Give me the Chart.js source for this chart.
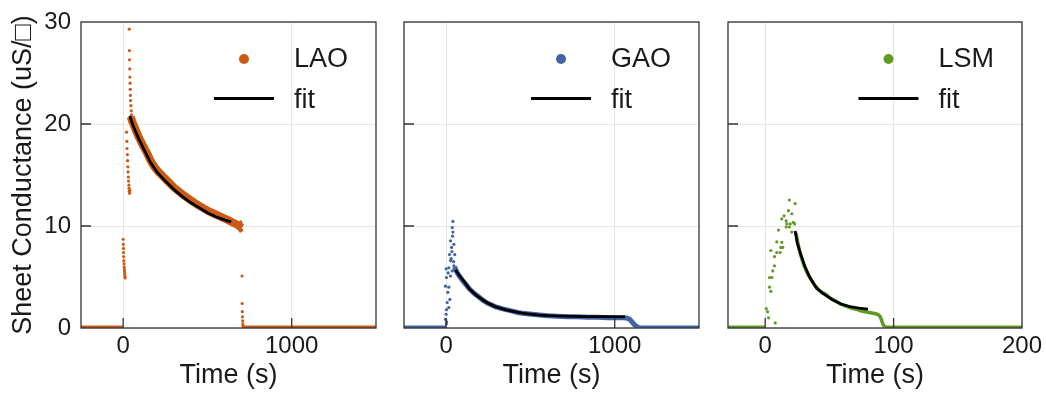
<!DOCTYPE html>
<html>
<head>
<meta charset="utf-8">
<script src="https://cdn.jsdelivr.net/npm/chart.js@4.4.0/dist/chart.umd.min.js"></script>
<style>
  body { margin: 0; background: #fff; }
  #wrap { position: relative; width: 1046px; height: 394px; }
  canvas { position: absolute; top: 0; }
</style>
</head>
<body>
<div id="wrap">
  <canvas id="c1" width="390" height="394" style="left:0px"></canvas>
  <canvas id="c2" width="325" height="394" style="left:390px"></canvas>
  <canvas id="c3" width="331" height="394" style="left:715px"></canvas>
</div>
<script>
"use strict";

// ---- values ----
var yTicks = [0, 10, 20, 30];
var longXTicks = [0, 1000];
var shortXTicks = [0, 100, 200];

// LAO
var laoPreT = [-250, 0], laoPreY = [0, 0];
var laoPostT = [712, 1500], laoPostY = [0, 0];
var laoSpikeT = [0, 1, 2, 2, 3, 4, 5, 6, 7, 8, 9, 10, 11, 12,
                 20, 22, 23, 25, 26, 28, 29, 31, 32, 34, 35, 37, 38, 40,
                 36, 37, 38, 39, 40, 41, 42, 43, 44, 46, 48, 50, 52,
                 690, 695, 700, 703, 698, 705, 706, 707, 708, 709, 710, 711, 712];
var laoSpikeY = [8.7, 8.2, 7.8, 7.4, 7.0, 6.6, 6.3, 6.0, 5.8, 5.6, 5.4, 5.2, 5.0, 4.9,
                 19.2, 18.3, 17.6, 17.0, 16.4, 15.8, 15.3, 14.8, 14.4, 14.0, 13.7, 13.4, 13.2, 13.5,
                 29.3, 27.2, 26.3, 25.4, 24.6, 24.0, 23.4, 22.8, 22.3, 21.8, 21.3, 20.9, 20.5,
                 10.3, 9.5, 10.2, 9.6, 10.4, 5.1, 2.4, 1.6, 1.1, 0.7, 0.4, 0.2, 0.1];
var laoBandT = [45, 55, 65, 75, 90, 105, 120, 140, 160, 185, 210, 240, 270, 300, 330, 360,
                395, 430, 465, 500, 540, 580, 620, 655, 680, 695, 705];
var laoBandY = [20.7, 20.2, 19.8, 19.4, 18.8, 18.3, 17.8, 17.2, 16.5, 15.8, 15.3, 14.8, 14.3, 13.8, 13.4, 13.0,
                12.6, 12.2, 11.85, 11.5, 11.2, 10.9, 10.6, 10.3, 10.1, 9.9, 9.8];
var laoFitT = [39, 60, 80, 100, 130, 160, 200, 250, 300, 350, 400, 450, 500, 550, 600, 641];
var laoFitY = [20.8, 19.8, 19.0, 18.3, 17.3, 16.3, 15.3, 14.4, 13.6, 12.9, 12.3, 11.8, 11.3, 10.9, 10.6, 10.4];

// GAO
var gaoPreT = [-250, 0], gaoPreY = [0, 0];
var gaoPostT = [1140, 1500], gaoPostY = [0, 0];
var gaoSpikeT = [-4, 0, 2, -4, 0, 12, 6, 16, 22, 10, 16, 26, 20, 32, 26, 40, 36, 40, 46, 51,
                 36, 46, 26, 2, 16, 30, 34, 44, 38, 1, 3];
var gaoSpikeY = [0.85, 1.35, 1.8, 4.1, 5.8, 5.4, 2.5, 2.0, 2.8, 3.5, 5.9, 6.6, 7.2, 7.9, 8.55, 9.4, 9.85, 10.45, 8.2, 7.2,
                 5.6, 6.1, 5.1, 4.95, 4.0, 6.8, 7.5, 6.5, 9.0, 0.4, 0.6];
var gaoBandT = [50, 60, 70, 85, 100, 120, 140, 165, 190, 220, 250, 290, 330, 380, 430, 480, 540, 600,
                660, 720, 780, 840, 900, 960, 1020, 1060, 1075, 1085, 1095, 1105, 1115, 1125, 1140];
var gaoBandY = [6.0, 5.6, 5.3, 4.95, 4.6, 4.2, 3.8, 3.4, 3.1, 2.7, 2.4, 2.1, 1.9, 1.7, 1.5, 1.4, 1.3, 1.2,
                1.15, 1.1, 1.1, 1.05, 1.05, 1.0, 1.0, 1.0, 0.95, 0.9, 0.75, 0.55, 0.35, 0.2, 0.05];
var gaoFitT = [55, 80, 110, 140, 180, 230, 290, 360, 450, 550, 650, 750, 850, 950, 1061];
var gaoFitY = [5.7, 5.1, 4.5, 3.8, 3.2, 2.6, 2.1, 1.75, 1.45, 1.27, 1.18, 1.14, 1.12, 1.11, 1.1];

// LSM
var lsmPreT = [-29, 0], lsmPreY = [0, 0];
var lsmPostT = [93, 200], lsmPostY = [0, 0];
var lsmSpikeT = [0.8, 1.8, 2.6, 7.8, 3.3, 4.4, 3.3, 5.2, 5.9, 7.2, 4.4, 7.2, 9.0, 11.6, 9.0, 12.2, 13.7,
                 12.9, 10.3, 12.9, 14.7, 16.3, 18.1, 18.8, 23.3, 20.7, 16.8, 19.4, 21.9, 23.0, 20.7, 16.3, 18.8];
var lsmSpikeY = [1.9, 1.6, 1.0, 0.5, 4.0, 3.6, 4.95, 4.95, 5.6, 6.1, 7.6, 7.0, 7.4, 7.4, 8.45, 7.9, 7.9,
                 8.4, 9.6, 10.7, 11.0, 10.5, 11.5, 12.55, 12.2, 11.2, 10.2, 10.2, 10.35, 10.2, 9.4, 9.9, 9.9];
var lsmBandT = [24, 25, 26, 27, 28, 29, 30, 31, 32, 33, 34, 35, 36, 37, 38, 39, 40, 41, 42, 43, 44, 45, 46,
                47, 48, 49, 50, 52, 54, 56, 58, 60, 62, 64, 66, 68, 70, 72, 74, 76, 78, 80, 82, 84, 86,
                88, 89, 90, 91, 92, 93];
var lsmBandY = [9.3, 8.6, 8.0, 7.4, 7.0, 6.6, 6.2, 5.9, 5.6, 5.3, 5.1, 4.9, 4.7, 4.5, 4.3, 4.1, 4.0, 3.8, 3.7,
                3.6, 3.5, 3.4, 3.4, 3.3, 3.25, 3.1, 3.0, 2.85, 2.7, 2.55, 2.4, 2.3, 2.2, 2.1, 2.0, 1.9, 1.85,
                1.8, 1.7, 1.65, 1.6, 1.55, 1.5, 1.45, 1.4, 1.3, 1.2, 1.0, 0.6, 0.3, 0.1];
var lsmFitT = [23.3, 25, 28, 31, 35, 40, 46, 52, 59, 66, 73, 80];
var lsmFitY = [9.5, 8.3, 7.1, 6.0, 4.9, 3.9, 3.3, 2.8, 2.35, 2.1, 1.95, 1.85];

var FONT = "'Liberation Sans', Arial, sans-serif";
var INK = '#1a1a1a';

function pts(ts, ys) {
    var out = [];
    for (var i = 0; i < ts.length; i++) {
        out.push({x: ts[i], y: ys[i]});
    }
    return out;
}

// frame, inward ticks and the in-axes legend
var panelDecor = {
    id: 'panelDecor',
    afterDatasetsDraw: function(chart, args, opts) {
        var ctx = chart.ctx;
        var a = chart.chartArea;
        var xs = chart.scales.x;
        var ys = chart.scales.y;
        ctx.save();
        ctx.strokeStyle = '#333';
        ctx.lineWidth = 1.3;
        ctx.beginPath();
        xs.ticks.forEach(function(t) {
            var px = xs.getPixelForValue(t.value);
            if (px > a.left + 2 && px < a.right - 2) {
                ctx.moveTo(px, a.bottom);
                ctx.lineTo(px, a.bottom - 10);
            }
        });
        ys.ticks.forEach(function(t) {
            var py = ys.getPixelForValue(t.value);
            if (py > a.top + 2 && py < a.bottom - 2) {
                ctx.moveTo(a.left, py);
                ctx.lineTo(a.left + 10, py);
            }
        });
        ctx.stroke();
        ctx.strokeRect(a.left, a.top, a.right - a.left, a.bottom - a.top);

        ctx.font = '27px ' + FONT;
        var w = Math.max(ctx.measureText(opts.label).width, ctx.measureText('fit').width);
        var tx = a.right - 28 - w;
        ctx.fillStyle = opts.color;
        ctx.beginPath();
        ctx.arc(tx - 50, a.top + 37, 5, 0, Math.PI * 2);
        ctx.fill();
        ctx.strokeStyle = '#000';
        ctx.lineWidth = 3;
        ctx.beginPath();
        ctx.moveTo(tx - 80, a.top + 76.5);
        ctx.lineTo(tx - 20, a.top + 76.5);
        ctx.stroke();
        ctx.fillStyle = INK;
        ctx.textBaseline = 'alphabetic';
        ctx.fillText(opts.label, tx, a.top + 45);
        ctx.fillText('fit', tx, a.top + 86);
        ctx.restore();
    }
};

function makePanel(id, p) {
    var baseStyle = {showLine: true, borderColor: p.color, borderWidth: 5, pointRadius: 0, order: 3, clip: 0};
    return new Chart(document.getElementById(id), {
        type: 'scatter',
        data: {
            datasets: [
                {data: pts(p.fitT, p.fitY), showLine: true, borderColor: '#000', borderWidth: 2.8,
                 pointRadius: 0, order: 0, clip: 0},
                {data: pts(p.spikeT, p.spikeY), pointRadius: 1.6, backgroundColor: p.color,
                 borderWidth: 0, order: 1, clip: 0},
                {data: pts(p.bandT, p.bandY), showLine: true, borderColor: p.color, borderWidth: p.bandWidth,
                 borderJoinStyle: 'round', pointRadius: 0, order: 2, clip: 0},
                Object.assign({data: pts(p.preT, p.preY)}, baseStyle),
                Object.assign({data: pts(p.postT, p.postY)}, baseStyle)
            ]
        },
        options: {
            responsive: false,
            animation: false,
            devicePixelRatio: 1,
            layout: {padding: {left: 0, right: p.padRight, top: 22, bottom: 0}},
            plugins: {
                legend: {display: false},
                tooltip: {enabled: false},
                panelDecor: {label: p.name, color: p.color}
            },
            scales: {
                x: {
                    type: 'linear', min: p.xMin, max: p.xMax,
                    afterBuildTicks: function(s) {
                        s.ticks = p.xTicks.map(function(v) { return {value: v}; });
                    },
                    afterFit: function(s) {
                        s.height = 66;
                        s.paddingLeft = 0;
                        s.paddingRight = 0;
                    },
                    grid: {color: '#e6e6e6', drawTicks: false},
                    border: {display: false},
                    ticks: {font: {size: 24, family: FONT}, color: INK, padding: 4, maxRotation: 0,
                            callback: function(v) { return String(v); }},
                    title: {display: true, text: 'Time (s)', color: INK,
                            font: {size: 27, family: FONT}, padding: {top: 2, bottom: 2}}
                },
                y: {
                    type: 'linear', min: 0, max: 30,
                    afterBuildTicks: function(s) {
                        s.ticks = yTicks.map(function(v) { return {value: v}; });
                    },
                    afterFit: function(s) {
                        s.width = p.yWidth;
                        s.paddingTop = 0;
                        s.paddingBottom = 0;
                    },
                    grid: {color: '#e6e6e6', drawTicks: false},
                    border: {display: false},
                    ticks: {display: p.yLabels, font: {size: 24, family: FONT}, color: INK, padding: 10,
                            callback: function(v) { return String(v); }},
                    title: {display: p.yLabels, text: 'Sheet Conductance (uS/\u25A1)', color: INK,
                            font: {size: 27, family: FONT}, padding: {top: 7, bottom: 0}}
                }
            }
        },
        plugins: [panelDecor]
    });
}

makePanel('c1', {
    name: 'LAO', color: '#cc5a14', bandWidth: 8,
    preT: laoPreT, preY: laoPreY, postT: laoPostT, postY: laoPostY,
    spikeT: laoSpikeT, spikeY: laoSpikeY, bandT: laoBandT, bandY: laoBandY,
    fitT: laoFitT, fitY: laoFitY,
    xMin: -250, xMax: 1500, xTicks: longXTicks,
    yWidth: 81, padRight: 14, yLabels: true
});
makePanel('c2', {
    name: 'GAO', color: '#4164a5', bandWidth: 5,
    preT: gaoPreT, preY: gaoPreY, postT: gaoPostT, postY: gaoPostY,
    spikeT: gaoSpikeT, spikeY: gaoSpikeY, bandT: gaoBandT, bandY: gaoBandY,
    fitT: gaoFitT, fitY: gaoFitY,
    xMin: -250, xMax: 1500, xTicks: longXTicks,
    yWidth: 14, padRight: 16, yLabels: false
});
makePanel('c3', {
    name: 'LSM', color: '#5f9b23', bandWidth: 3.5,
    preT: lsmPreT, preY: lsmPreY, postT: lsmPostT, postY: lsmPostY,
    spikeT: lsmSpikeT, spikeY: lsmSpikeY, bandT: lsmBandT, bandY: lsmBandY,
    fitT: lsmFitT, fitY: lsmFitY,
    xMin: -29, xMax: 200, xTicks: shortXTicks,
    yWidth: 13, padRight: 24, yLabels: false
});
</script>
</body>
</html>
